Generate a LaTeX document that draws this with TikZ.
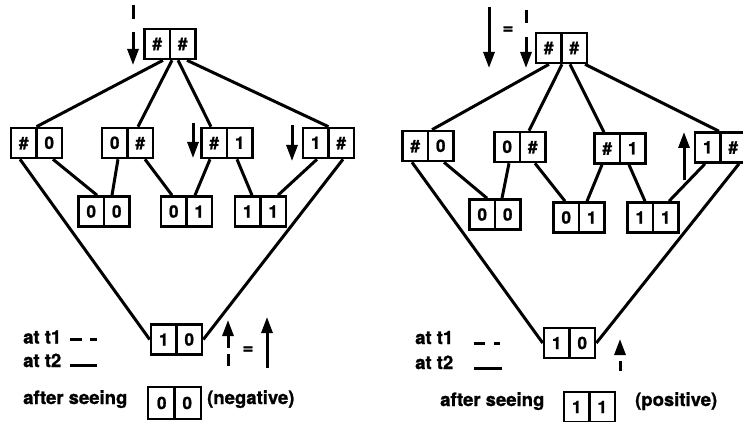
\documentclass[tikz,border=0pt]{standalone}
\usepackage{fontspec}
\setmainfont{TeX Gyre Heros}[BoldFeatures={FakeBold=1.2}]
\usetikzlibrary{arrows.meta,calc}
\newcommand\cells[2]{\makebox[25.5pt]{#1}\makebox[25.5pt]{#2}}
\begin{document}
\begin{tikzpicture}[x=1pt,y=-1pt,
  pair/.style={draw, line width=2.6pt, minimum width=51pt, minimum height=30pt, inner sep=0pt,
    font=\fontsize{17}{17}\selectfont\bfseries,
    path picture={\draw[line width=2.6pt] (path picture bounding box.north) -- (path picture bounding box.south);}},
  conn/.style={line width=3pt},
  arr/.style={line width=3pt, -{Triangle[width=11pt,length=16pt]}},
  dsh/.style={line width=3pt},
  lab/.style={anchor=base west, inner sep=0pt, font=\fontsize{18.5}{18.5}\selectfont\bfseries},
  eq/.style={inner sep=0pt, font=\fontsize{18.5}{18.5}\selectfont\bfseries}]
\useasboundingbox (0,0) rectangle (743,422);

% ---------------- left panel ----------------
\node[pair] (LT)  at (170,44)    {\cells{\#}{\#}};
\node[pair] (L1a) at (36.5,143)  {\cells{\#}{0}};
\node[pair] (L1b) at (127.5,143) {\cells{0}{\#}};
\node[pair] (L1c) at (227,143)   {\cells{\#}{1}};
\node[pair] (L1d) at (328.5,143) {\cells{1}{\#}};
\node[pair] (L2a) at (104,211.5) {\cells{0}{0}};
\node[pair] (L2b) at (186.5,211.5) {\cells{0}{1}};
\node[pair] (L2c) at (260.5,211.5) {\cells{1}{1}};
\node[pair] (LB)  at (176.5,339.5) {\cells{1}{0}};

\draw[conn] ([xshift=-7pt]LT.south) -- (L1a.north);
\draw[conn] ([xshift=2pt]LT.south) -- ([xshift=10.5pt]L1b.north);
\draw[conn] ([xshift=8pt]LT.south) -- ([xshift=-16pt]L1c.north);
\draw[conn] ([xshift=17pt]LT.south) -- (L1d.north);
\draw[conn] ([xshift=-16.5pt]L1a.south) -- (LB.west);
\draw[conn] ([xshift=16.5pt]L1a.south) -- ([xshift=-7pt]L2a.north);
\draw[conn] ([xshift=-9.5pt]L1b.south) -- ([xshift=8pt]L2a.north);
\draw[conn] ([xshift=17.5pt]L1b.south) -- ([xshift=-14.5pt]L2b.north);
\draw[conn] ([xshift=-17pt]L1c.south) -- ([xshift=8.5pt]L2b.north);
\draw[conn] ([xshift=10pt]L1c.south) -- ([xshift=-8.5pt]L2c.north);
\draw[conn] ([xshift=-11.5pt]L1d.south) -- ([xshift=17.5pt]L2c.north);
\draw[conn] ([xshift=14.5pt]L1d.south) -- (LB.east);

% arrows left
\coordinate (la1) at (133,5);  \coordinate (la2) at (133,19);
\coordinate (la3) at (133,32); \coordinate (la4) at (133,65);
\draw[dsh] (la1) -- (la2);
\draw[arr] (la3) -- (la4);
\coordinate (lb1) at (193,123); \coordinate (lb2) at (193,158);
\draw[arr] (lb1) -- (lb2);
\coordinate (lc1) at (292,125); \coordinate (lc2) at (292,161);
\draw[arr] (lc1) -- (lc2);
\coordinate (ld1) at (228,366); \coordinate (ld2) at (228,354);
\coordinate (ld3) at (228,348); \coordinate (ld4) at (228,320);
\draw[dsh] (ld1) -- (ld2);
\draw[arr] (ld3) -- (ld4);
\node[eq] (leq) at (248,350) {=};
\coordinate (le1) at (267,368); \coordinate (le2) at (267,317);
\draw[arr] (le1) -- (le2);

% legend left
\node[lab] (lt1) at (23,343.5) {at t1};
\node[lab] (lt2) at (23,367) {at t2};
\coordinate (lm1) at (70,339.5); \coordinate (lm2) at (82,339.5);
\coordinate (lm3) at (90,339.5); \coordinate (lm4) at (97,339.5);
\draw[dsh] (lm1) -- (lm2); \draw[dsh] (lm3) -- (lm4);
\coordinate (ln1) at (70,365); \coordinate (ln2) at (97,365);
\draw[dsh] (ln1) -- (ln2);
\node[lab] (las) at (23,404) {after seeing};
\node[pair, minimum height=32pt, minimum width=53pt] (lex) at (174.5,403) {\cells{0}{0}};
\node[lab] (lneg) at (207,404) {(negative)};

% ---------------- right panel ----------------
\node[pair] (RT)  at (561.5,48)  {\cells{\#}{\#}};
\node[pair] (R1a) at (428,146)   {\cells{\#}{0}};
\node[pair] (R1b) at (520,147)   {\cells{0}{\#}};
\node[pair] (R1c) at (620,148.5) {\cells{\#}{1}};
\node[pair] (R1d) at (720.5,147.5) {\cells{1}{\#}};
\node[pair] (R2a) at (495,214.5) {\cells{0}{0}};
\node[pair] (R2b) at (579,217.5) {\cells{0}{1}};
\node[pair] (R2c) at (653,217.5) {\cells{1}{1}};
\node[pair] (RB)  at (569.5,343) {\cells{1}{0}};

\draw[conn] ([xshift=-12.5pt]RT.south) -- ([xshift=4pt]R1a.north);
\draw[conn] ([xshift=0.5pt]RT.south) -- ([xshift=9pt]R1b.north);
\draw[conn] ([xshift=8.5pt]RT.south) -- ([xshift=-16pt]R1c.north);
\draw[conn] ([xshift=23.5pt]RT.south) -- ([xshift=-1.5pt]R1d.north);
\draw[conn] ([xshift=-16pt]R1a.south) -- (RB.west);
\draw[conn] ([xshift=16pt]R1a.south) -- ([xshift=-8pt]R2a.north);
\draw[conn] ([xshift=-11pt]R1b.south) -- ([xshift=7pt]R2a.north);
\draw[conn] ([xshift=15pt]R1b.south) -- ([xshift=-14pt]R2b.north);
\draw[conn] ([xshift=-18pt]R1c.south) -- ([xshift=8pt]R2b.north);
\draw[conn] ([xshift=9pt]R1c.south) -- ([xshift=-8pt]R2c.north);
\draw[conn] ([xshift=-15.5pt]R1d.south) -- ([xshift=16pt]R2c.north);
\draw[conn] ([xshift=18.5pt]R1d.south) -- (RB.east);

% arrows right
\coordinate (ra1) at (489,7); \coordinate (ra2) at (489,68);
\draw[arr] (ra1) -- (ra2);
\node[eq] (req) at (508,30) {=};
\coordinate (rb1) at (526,10); \coordinate (rb2) at (526,23);
\coordinate (rb3) at (526,37); \coordinate (rb4) at (526,68);
\draw[dsh] (rb1) -- (rb2);
\draw[arr] (rb3) -- (rb4);
\coordinate (rc1) at (684,180); \coordinate (rc2) at (684,132);
\draw[arr] (rc1) -- (rc2);
\coordinate (rd1) at (620,371); \coordinate (rd2) at (620,361);
\coordinate (rd3) at (620,354); \coordinate (rd4) at (620,339);
\draw[dsh] (rd1) -- (rd2);
\draw[arr] (rd3) -- (rd4);

% legend right
\node[lab] (rt1) at (415,344) {at t1};
\node[lab] (rt2) at (415,369) {at t2};
\coordinate (rm1) at (474,343); \coordinate (rm2) at (485,343);
\coordinate (rm3) at (494,343); \coordinate (rm4) at (500,343);
\draw[dsh] (rm1) -- (rm2); \draw[dsh] (rm3) -- (rm4);
\coordinate (rn1) at (474,368); \coordinate (rn2) at (502,368);
\draw[dsh] (rn1) -- (rn2);
\node[lab] (ras) at (440,406) {after seeing};
\node[pair] (rex) at (589.5,407) {\cells{1}{1}};
\node[lab] (rpos) at (635,406) {(positive)};
\end{tikzpicture}
\end{document}
